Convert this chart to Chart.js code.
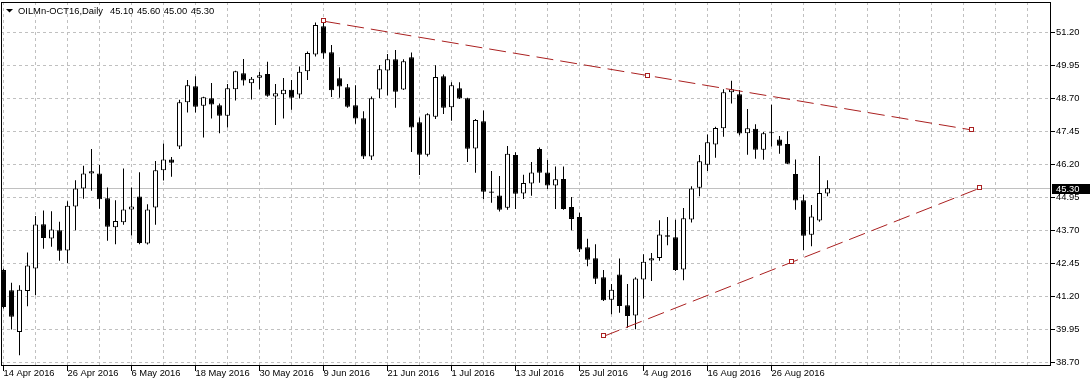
<!DOCTYPE html>
<html><head><meta charset="utf-8">
<script src="https://cdn.jsdelivr.net/npm/chart.js@4.4.0/dist/chart.umd.min.js"></script>
<style>html,body{margin:0;padding:0;background:#fff;}canvas{display:block;}</style>
</head><body>
<canvas id="c" width="1090" height="386"></canvas>
<script>
const symbolTitle = 'OILMn-OCT16,Daily';
const xTickLabels = ['14 Apr 2016','26 Apr 2016','6 May 2016','18 May 2016','30 May 2016','9 Jun 2016','21 Jun 2016','1 Jul 2016','13 Jul 2016','25 Jul 2016','4 Aug 2016','16 Aug 2016','26 Aug 2016'];
const yTickLabels = ['38.70','39.95','41.20','42.45','43.70','44.95','46.20','47.45','48.70','49.95','51.20'];

const open = [42.20,41.44,39.86,41.41,42.26,43.94,43.40,43.71,42.94,44.61,45.29,45.86,45.86,44.92,43.82,44.01,44.50,44.99,43.21,44.57,45.98,46.39,
46.88,48.56,49.16,48.43,48.71,48.44,48.05,49.05,49.66,49.28,49.49,49.63,48.78,48.86,49.03,48.85,49.73,50.37,51.44,50.45,49.47,
49.13,48.44,47.95,46.50,49.04,49.76,50.19,49.04,50.26,47.80,46.57,48.01,49.54,48.37,49.09,48.71,46.81,47.84,45.18,45.03,44.56,
46.56,45.10,45.48,46.79,45.90,45.40,45.65,44.59,44.21,43.07,42.65,41.93,41.08,42.03,40.87,40.48,41.84,42.56,42.66,43.52,43.44,42.22,
44.12,45.32,46.19,46.96,47.57,48.94,48.86,47.38,47.55,46.76,47.38,47.15,46.98,45.84,44.85,43.54,44.08,45.10];
const high = [42.25,41.72,41.63,42.87,44.25,44.46,44.43,44.03,44.81,45.60,46.15,46.79,46.18,45.33,44.85,46.05,45.33,45.91,44.69,46.33,47.00,46.48,
48.65,49.40,49.54,48.77,49.29,48.51,49.25,49.75,50.20,49.51,49.71,50.09,49.25,49.48,49.40,49.91,50.48,51.58,51.63,50.73,49.88,
49.25,49.20,48.22,48.78,49.97,50.39,50.54,50.19,50.44,47.98,48.14,49.96,49.61,49.32,49.32,48.73,47.92,48.25,45.95,45.76,46.90,
46.66,45.81,46.29,46.84,46.37,46.12,46.12,44.97,44.37,43.39,43.18,42.20,41.67,42.64,41.67,41.93,42.80,42.85,44.09,44.21,44.11,44.55,
45.38,46.56,47.34,47.63,49.05,49.37,49.02,48.30,47.72,47.43,48.46,47.28,47.46,46.39,45.05,44.67,46.52,45.60];
const low = [40.75,39.95,38.97,40.83,41.25,43.01,43.08,42.55,42.47,43.71,44.90,45.21,44.52,43.31,43.18,43.92,43.51,43.18,43.17,43.92,45.59,45.74,
46.79,48.17,48.17,47.22,47.94,47.38,47.60,48.62,49.19,48.66,49.04,48.77,47.70,47.94,48.27,48.70,49.40,50.29,50.21,48.76,48.73,
48.35,47.74,46.41,46.37,48.72,48.81,48.35,49.02,46.67,45.80,46.50,47.92,48.11,47.86,48.68,46.29,45.89,44.88,44.75,44.42,44.49,
44.51,44.89,45.02,45.51,45.27,44.51,44.49,43.71,42.89,42.35,41.67,41.03,40.53,40.58,40.02,39.96,41.12,41.79,42.55,43.14,42.17,41.82,
44.00,45.00,45.95,46.46,47.25,48.51,47.31,46.57,46.42,46.38,46.88,46.61,46.22,44.49,42.96,43.10,44.03,45.00];
const close = [40.80,40.43,41.46,42.37,43.93,43.42,43.74,42.93,44.64,45.29,45.86,45.94,44.88,43.84,44.06,44.50,44.61,43.23,44.50,45.98,46.39,46.27,
48.56,49.20,48.39,48.75,48.47,48.05,49.09,49.73,49.38,49.45,49.58,48.80,48.90,49.03,48.73,49.71,50.42,51.48,50.40,49.01,49.15,
48.39,47.94,46.50,48.71,49.81,50.19,48.96,50.11,47.60,46.57,48.10,49.51,48.35,49.20,48.70,46.80,47.89,45.17,45.13,44.49,46.61,
45.09,45.50,45.90,45.89,45.40,45.64,44.51,44.14,42.98,42.59,41.87,41.06,41.46,40.84,40.46,41.88,42.52,42.65,43.55,43.46,42.20,44.16,
45.29,46.32,47.04,47.58,48.94,49.05,47.37,47.57,46.76,47.38,47.38,46.91,46.23,44.84,43.50,44.23,45.12,45.30];

// trend lines: anchor bar indices and prices
const trendUpperX = [40, 121];
const trendUpperY = [51.63, 47.51];
const trendLowerX = [75, 122];
const trendLowerY = [39.69, 45.30];

const N = close.length;
const idx = close.map((_, i) => i);
const FONT = "'Liberation Sans', Arial, sans-serif";
const FS = 9.4;
const trendColor = 'rgb(170,32,32)';

const candlePlugin = {
  id: 'mt4decor',
  beforeDatasetsDraw(chart) {
    const ctx = chart.ctx, a = chart.chartArea;
    const y = Math.floor(chart.scales.y.getPixelForValue(close[N - 1])) + 0.5;
    ctx.save();
    ctx.strokeStyle = '#c0c0c0'; ctx.lineWidth = 1;
    ctx.beginPath(); ctx.moveTo(a.left, y); ctx.lineTo(a.right, y); ctx.stroke();
    ctx.restore();
  },
  afterDatasetsDraw(chart) {
    const ctx = chart.ctx;
    ctx.save();
    ctx.strokeStyle = trendColor; ctx.lineWidth = 1; ctx.fillStyle = '#fff';
    chart.data.datasets.forEach((ds, i) => {
      if (!ds.trend) return;
      const pts = chart.getDatasetMeta(i).data;
      const p0 = pts[0], p1 = pts[pts.length - 1];
      const list = [[p0.x, p0.y], [(p0.x + p1.x) / 2, (p0.y + p1.y) / 2], [p1.x, p1.y]];
      list.forEach(([x, y]) => {
        const cx = Math.round(x), cy = Math.round(y);
        ctx.fillRect(cx - 2, cy - 2, 3, 3);
        ctx.strokeRect(cx - 2.5, cy - 2.5, 4, 4);
      });
    });
    ctx.restore();
  },
  afterDraw(chart) {
    const ctx = chart.ctx, a = chart.chartArea;
    ctx.save();
    // frame
    ctx.strokeStyle = '#000'; ctx.lineWidth = 1;
    ctx.strokeRect(a.left + 0.5, a.top + 0.5, a.right - a.left - 1, a.bottom - a.top - 1);
    // current price label
    const py = Math.floor(chart.scales.y.getPixelForValue(close[N - 1]));
    ctx.fillStyle = '#000';
    ctx.fillRect(a.right + 1, py - 4, chart.width - a.right - 1, 10);
    ctx.fillStyle = '#fff';
    ctx.font = FS + 'px ' + FONT;
    ctx.textBaseline = 'middle'; ctx.textAlign = 'left';
    ctx.fillText(close[N - 1].toFixed(2), a.right + 5, py + 1);
    // title
    ctx.fillStyle = '#000';
    ctx.beginPath(); ctx.moveTo(6, 9); ctx.lineTo(13, 9); ctx.lineTo(9.5, 12.5); ctx.closePath(); ctx.fill();
    ctx.textBaseline = 'alphabetic';
    let x = 18;
    ctx.fillText(symbolTitle, x, 14);
    x += ctx.measureText(symbolTitle).width + 7;
    [open[N - 1], high[N - 1], low[N - 1], close[N - 1]].forEach(v => {
      const s = v.toFixed(2);
      ctx.fillText(s, x, 14);
      x += ctx.measureText(s).width + 3.5;
    });
    ctx.restore();
  }
};

const isLabeled = v => v % 8 === 0 && v / 8 < xTickLabels.length;

new Chart(document.getElementById('c'), {
  type: 'bar',
  data: {
    datasets: [
      {
        type: 'line', trend: true, order: 0,
        data: trendUpperX.map((x, i) => ({ x, y: trendUpperY[i] })),
        borderColor: trendColor, borderWidth: 1, borderDash: [17, 7], pointRadius: 0, tension: 0, fill: false
      },
      {
        type: 'line', trend: true, order: 0,
        data: trendLowerX.map((x, i) => ({ x, y: trendLowerY[i] })),
        borderColor: trendColor, borderWidth: 1, borderDash: [17, 7], pointRadius: 0, tension: 0, fill: false
      },
      {
        label: 'body', order: 1,
        data: idx.map(i => ({ x: i, y: [open[i], close[i]] })),
        backgroundColor: idx.map(i => close[i] >= open[i] ? '#ffffff' : '#000000'),
        borderColor: '#000000', borderWidth: 1, borderSkipped: false,
        barThickness: 5, grouped: false, inflateAmount: 0, minBarLength: 1
      },
      {
        label: 'wick', order: 2,
        data: idx.map(i => ({ x: i, y: [low[i], high[i]] })),
        backgroundColor: '#000000', borderWidth: 0,
        barThickness: 1, grouped: false, inflateAmount: 0
      }
    ]
  },
  options: {
    responsive: false, animation: false, devicePixelRatio: 1, events: [],
    layout: { padding: { left: 1, top: 2, right: 0, bottom: 0 } },
    plugins: { legend: { display: false }, tooltip: { enabled: false }, title: { display: false } },
    font: { family: FONT, size: FS },
    scales: {
      x: {
        type: 'linear', min: -0.3125, max: 130.9375, offset: false, bounds: 'data',
        afterBuildTicks: s => { const t = []; for (let v = 0; v <= s.max; v += 4) t.push({ value: v }); s.ticks = t; },
        ticks: {
          autoSkip: false, maxRotation: 0, minRotation: 0, align: 'start', padding: -2, color: '#000',
          font: { family: FONT, size: FS, lineHeight: 1 },
          callback: v => isLabeled(v) ? xTickLabels[v / 8] : ''
        },
        grid: {
          color: '#c0c0c0', lineWidth: 1, offset: false, drawTicks: true, tickLength: 5,
          tickColor: c => (c.tick && isLabeled(c.tick.value)) ? '#000' : 'rgba(0,0,0,0)'
        },
        border: { display: false, dash: [3, 3] },
        afterFit: s => { s.height = 20; s.paddingLeft = 0; s.paddingRight = 0; }
      },
      y: {
        type: 'linear', position: 'right', min: 38.5674, max: 52.3553, bounds: 'data', beginAtZero: false,
        afterBuildTicks: s => { s.ticks = yTickLabels.map(t => ({ value: parseFloat(t) })); },
        ticks: {
          autoSkip: false, padding: 1, color: '#000', font: { family: FONT, size: FS },
          callback: (v, i) => yTickLabels[i]
        },
        grid: { color: '#c0c0c0', lineWidth: 1, drawTicks: true, tickLength: 4, tickColor: '#000' },
        border: { display: false, dash: [3, 3] },
        afterFit: s => { s.width = 39; s.paddingTop = 0; s.paddingBottom = 0; }
      }
    }
  },
  plugins: [candlePlugin]
});
</script>
</body></html>
